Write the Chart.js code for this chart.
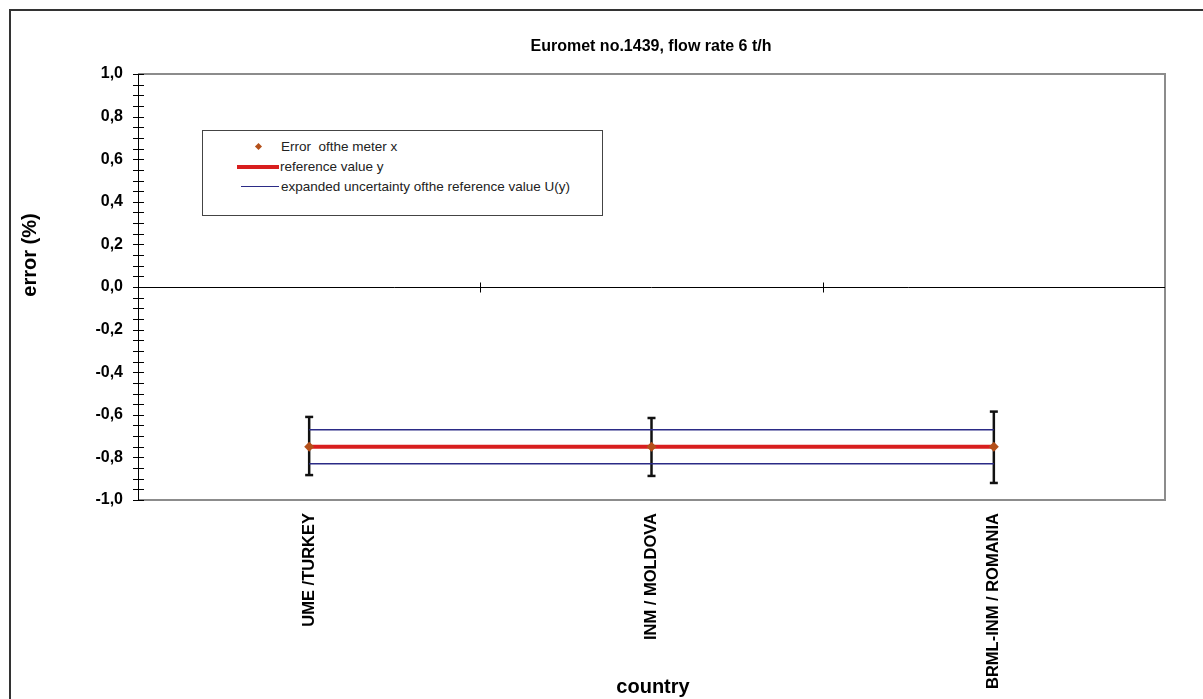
<!DOCTYPE html>
<html>
<head>
<meta charset="utf-8">
<script src="https://cdn.jsdelivr.net/npm/chart.js@4.4.0/dist/chart.umd.min.js"></script>
<style>
  html, body { margin: 0; padding: 0; background: #fff; }
  #wrap { position: relative; width: 1203px; height: 699px; overflow: hidden; }
  #legend {
    position: absolute; left: 202px; top: 130px; width: 399px; height: 84px;
    border: 1px solid #444; background: #fff;
    font-family: "Liberation Sans", Arial, sans-serif; font-size: 13.5px; color: #222;
  }
  #legend .row { position: absolute; left: 0; height: 16px; line-height: 16px; }
  #legend .txt { position: absolute; white-space: nowrap; }
  #legend .mark { position: absolute; }
</style>
</head>
<body>
<div id="wrap">
  <canvas id="chart" width="1203" height="699"></canvas>
  <div id="legend">
    <div class="row" style="top:8px">
      <div class="mark" style="left:53px;top:5px;width:5px;height:5px;background:#b4501a;transform:rotate(45deg)"></div>
      <span class="txt" style="left:78px">Error &nbsp;ofthe meter x</span>
    </div>
    <div class="row" style="top:28px">
      <div class="mark" style="left:34px;top:6px;width:42px;height:4px;background:#d81e1e"></div>
      <span class="txt" style="left:77px">reference value y</span>
    </div>
    <div class="row" style="top:48px">
      <div class="mark" style="left:38px;top:7px;width:38px;height:1px;background:#2b2b86"></div>
      <span class="txt" style="left:78px">expanded uncertainty ofthe reference value U(y)</span>
    </div>
  </div>
</div>
<script>
// values
const countries = ['UME /TURKEY', 'INM / MOLDOVA', 'BRML-INM / ROMANIA'];
const meterError = [-0.75, -0.75, -0.75];
const errHigh = [-0.61, -0.615, -0.585];
const errLow = [-0.883, -0.887, -0.92];
const refValue = [-0.75, -0.75, -0.75];
const uncUpper = [-0.67, -0.67, -0.67];
const uncLower = [-0.83, -0.83, -0.83];

const chartTitle = 'Euromet no.1439, flow rate 6 t/h';
const yTitle = 'error (%)';
const xTitle = 'country';
const FONT = '"Liberation Sans", Arial, sans-serif';

function line(ctx, x1, y1, x2, y2) {
  ctx.beginPath();
  ctx.moveTo(x1, y1);
  ctx.lineTo(x2, y2);
  ctx.stroke();
}

// frame, axis lines, ticks and error bars
const decor = {
  id: 'decor',
  beforeDatasetsDraw(chart) {
    const { ctx, chartArea: a, scales: { x, y } } = chart;
    ctx.save();
    // outer border
    ctx.strokeStyle = '#333';
    ctx.lineWidth = 2;
    ctx.strokeRect(10, 10, 1400, 900);
    // plot frame (top, right, bottom)
    ctx.strokeStyle = '#8c8c8c';
    ctx.lineWidth = 2;
    ctx.beginPath();
    ctx.moveTo(a.left, a.top);
    ctx.lineTo(a.right, a.top);
    ctx.lineTo(a.right, a.bottom);
    ctx.lineTo(a.left, a.bottom);
    ctx.stroke();
    // y axis
    ctx.strokeStyle = '#000';
    ctx.lineWidth = 1;
    line(ctx, a.left + 0.5, a.top, a.left + 0.5, a.bottom);
    y.ticks.forEach((t, i) => {
      const py = Math.round(y.getPixelForTick(i)) + 0.5;
      line(ctx, a.left - 5, py, a.left + 6, py);
    });
    // zero line with category ticks
    const y0 = Math.round(y.getPixelForValue(0)) + 0.5;
    line(ctx, a.left, y0, a.right, y0);
    for (let i = 1; i < countries.length; i++) {
      const bx = Math.round((x.getPixelForValue(i - 1) + x.getPixelForValue(i)) / 2) + 0.5;
      line(ctx, bx, y0 - 5, bx, y0 + 5);
    }
    // error bars
    ctx.strokeStyle = '#111';
    ctx.lineWidth = 2.5;
    countries.forEach((c, i) => {
      const px = x.getPixelForValue(i);
      const top = y.getPixelForValue(errHigh[i]);
      const bot = y.getPixelForValue(errLow[i]);
      line(ctx, px, top, px, bot);
      line(ctx, px - 4, top, px + 4, top);
      line(ctx, px - 4, bot, px + 4, bot);
    });
    ctx.restore();
  },
  afterDraw(chart) {
    const { ctx } = chart;
    ctx.save();
    ctx.fillStyle = '#000';
    ctx.textAlign = 'center';
    ctx.textBaseline = 'middle';
    ctx.font = 'bold 16px ' + FONT;
    ctx.fillText(chartTitle, 651, 47);
    ctx.font = 'bold 20px ' + FONT;
    ctx.fillText(xTitle, 653, 687);
    ctx.translate(30, 255);
    ctx.rotate(-Math.PI / 2);
    ctx.fillText(yTitle, 0, 0);
    ctx.restore();
  }
};

new Chart(document.getElementById('chart').getContext('2d'), {
  type: 'line',
  data: {
    labels: countries,
    datasets: [
      {
        label: 'Error  ofthe meter x',
        data: meterError,
        showLine: false,
        pointStyle: 'rectRot',
        pointRadius: 5,
        backgroundColor: '#b4501a',
        borderColor: '#b4501a',
        borderWidth: 0,
      },
      {
        label: 'reference value y',
        data: refValue,
        borderColor: '#d81e1e',
        borderWidth: 4,
        pointRadius: 0,
      },
      {
        label: 'expanded uncertainty ofthe reference value U(y)',
        data: uncUpper,
        borderColor: '#2b2b86',
        borderWidth: 1.5,
        pointRadius: 0,
      },
      {
        label: 'expanded uncertainty ofthe reference value U(y)',
        data: uncLower,
        borderColor: '#2b2b86',
        borderWidth: 1.5,
        pointRadius: 0,
      },
    ],
  },
  options: {
    responsive: false,
    animation: false,
    layout: { padding: { left: 0, right: 38, top: 74, bottom: 0 } },
    plugins: {
      legend: { display: false },
      title: { display: false },
      tooltip: { enabled: false },
    },
    scales: {
      x: {
        offset: true,
        grid: { display: false },
        border: { display: false },
        ticks: {
          minRotation: 90,
          maxRotation: 90,
          autoSkip: false,
          padding: 5,
          color: '#000',
          font: { family: FONT, size: 16.5, weight: 'bold' },
        },
        afterFit: (s) => { s.height = 199; },
      },
      y: {
        min: -1,
        max: 1,
        grid: { display: false },
        border: { display: false },
        ticks: {
          stepSize: 0.05,
          autoSkip: false,
          padding: 7,
          color: '#000',
          font: { family: FONT, size: 16, weight: 'bold' },
          callback: (v) => Math.abs(v * 5 - Math.round(v * 5)) < 1e-6 ? v.toFixed(1).replace('.', ',') : '',
        },
        afterFit: (s) => { s.width = 138; },
      },
    },
  },
  plugins: [decor],
});
</script>
</body>
</html>
